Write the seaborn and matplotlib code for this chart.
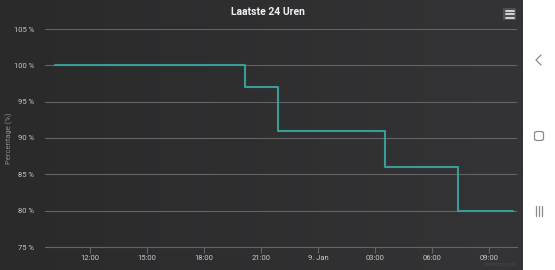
import numpy as np
import pandas as pd
import matplotlib
matplotlib.use("Agg")
import matplotlib.pyplot as plt
from matplotlib.patches import FancyBboxPatch
from matplotlib.colors import LinearSegmentedColormap
import seaborn as sns

# ---- data ----
times = ["2022-01-08 10:10", "2022-01-08 20:10", "2022-01-08 21:53",
         "2022-01-09 03:32", "2022-01-09 07:22", "2022-01-09 10:16"]
percent = [100, 97, 91, 86, 80, 80]
title = "Laatste 24 Uren"
ylabel = "Percentage (%)"
yticks = [75, 80, 85, 90, 95, 100, 105]

df = pd.DataFrame({"time": pd.to_datetime(times), "pct": percent})

sns.set_theme(style="dark")
plt.rcParams["font.family"] = ["Roboto", "DejaVu Sans"]

W, H = 555, 270
fig = plt.figure(figsize=(W / 100, H / 100), dpi=100, facecolor="white")

# dark background with gradient (chart area of the screenshot)
bg = fig.add_axes([0, 0, 523 / W, 1])
grad = np.linspace(0, 1, 256).reshape(1, -1)
cmap = LinearSegmentedColormap.from_list("bg", ["#2a2a2b", "#343436"])
bg.imshow(grad, aspect="auto", cmap=cmap, extent=[0, 1, 0, 1])
bg.set_axis_off()

left, right = 45 / W, 517 / W
bottom, top = (H - 247) / H, (H - 29) / H
ax = fig.add_axes([left, bottom, right - left, top - bottom])
ax.set_facecolor("none")

sns.lineplot(data=df, x="time", y="pct", ax=ax, color="#3a9c97",
             linewidth=1.5, drawstyle="steps-post")

ax.set_ylim(75, 105)
ax.set_yticks(yticks)
ax.set_yticklabels([f"{v} %" for v in yticks])
x0 = pd.Timestamp("2022-01-08 12:00") - pd.Timedelta(hours=45 / 19)
x1 = pd.Timestamp("2022-01-09 09:00") + pd.Timedelta(hours=28 / 19)
ax.set_xlim(x0, x1)
xt = pd.date_range("2022-01-08 12:00", "2022-01-09 09:00", freq="3h")
ax.set_xticks(xt)
ax.set_xticklabels([("9. Jan" if t.hour == 0 else t.strftime("%H:%M")) for t in xt])

ax.grid(axis="y", color="#646467", linewidth=0.8)
ax.grid(axis="x", visible=False)
for s in ["top", "right", "left"]:
    ax.spines[s].set_visible(False)
ax.spines["bottom"].set_color("#646467")
ax.spines["bottom"].set_linewidth(0.8)
ax.tick_params(axis="x", colors="#c8c8c8", labelsize=5.5, length=4,
               width=0.8, color="#646467", pad=2, bottom=True)
ax.tick_params(axis="y", colors="#c8c8c8", labelsize=5.5, length=0, pad=8)
ax.set_xlabel("")
ax.set_ylabel(ylabel, color="#8c8c8c", fontsize=5.5)
ax.yaxis.set_label_coords((13 - 45) / 472, 0.5)

fig.text(268 / W, 1 - 12 / H, title, ha="center", va="center",
         color="#f0f0f0", fontsize=7.5, fontweight="bold")
fig.text(515 / W, 1 - 265 / H, "Domoticz.com", ha="right", va="center",
         color="#4a4a4c", fontsize=3.5)

# hamburger menu icon
box = FancyBboxPatch((503 / W, 1 - 20 / H), 13 / W, 12 / H,
                     boxstyle="round,pad=0.0,rounding_size=0.003",
                     transform=fig.transFigure, facecolor="#505053",
                     edgecolor="none")
fig.patches.append(box)
for yy in [10.5, 14, 17.5]:
    fig.lines.append(plt.Line2D([505.5 / W, 513.5 / W], [1 - yy / H] * 2,
                                transform=fig.transFigure, color="#e0e0e0",
                                linewidth=1.3))

# android nav buttons
fig.lines.append(plt.Line2D([541 / W, 536 / W, 541 / W],
                            [1 - 55 / H, 1 - 60 / H, 1 - 65 / H],
                            transform=fig.transFigure, color="#8a8a8a",
                            linewidth=0.9))
fig.patches.append(FancyBboxPatch((534.5 / W, 1 - 140.5 / H), 9 / W, 9 / H,
                   boxstyle="round,pad=0,rounding_size=0.006",
                   transform=fig.transFigure, facecolor="none",
                   edgecolor="#8a8a8a", linewidth=0.9))
for xx in [535.5, 538.5, 541.5]:
    fig.lines.append(plt.Line2D([xx / W] * 2, [1 - 206 / H, 1 - 216 / H],
                                transform=fig.transFigure, color="#8a8a8a",
                                linewidth=0.9))

fig.savefig("out.png", dpi=100, facecolor="white")
